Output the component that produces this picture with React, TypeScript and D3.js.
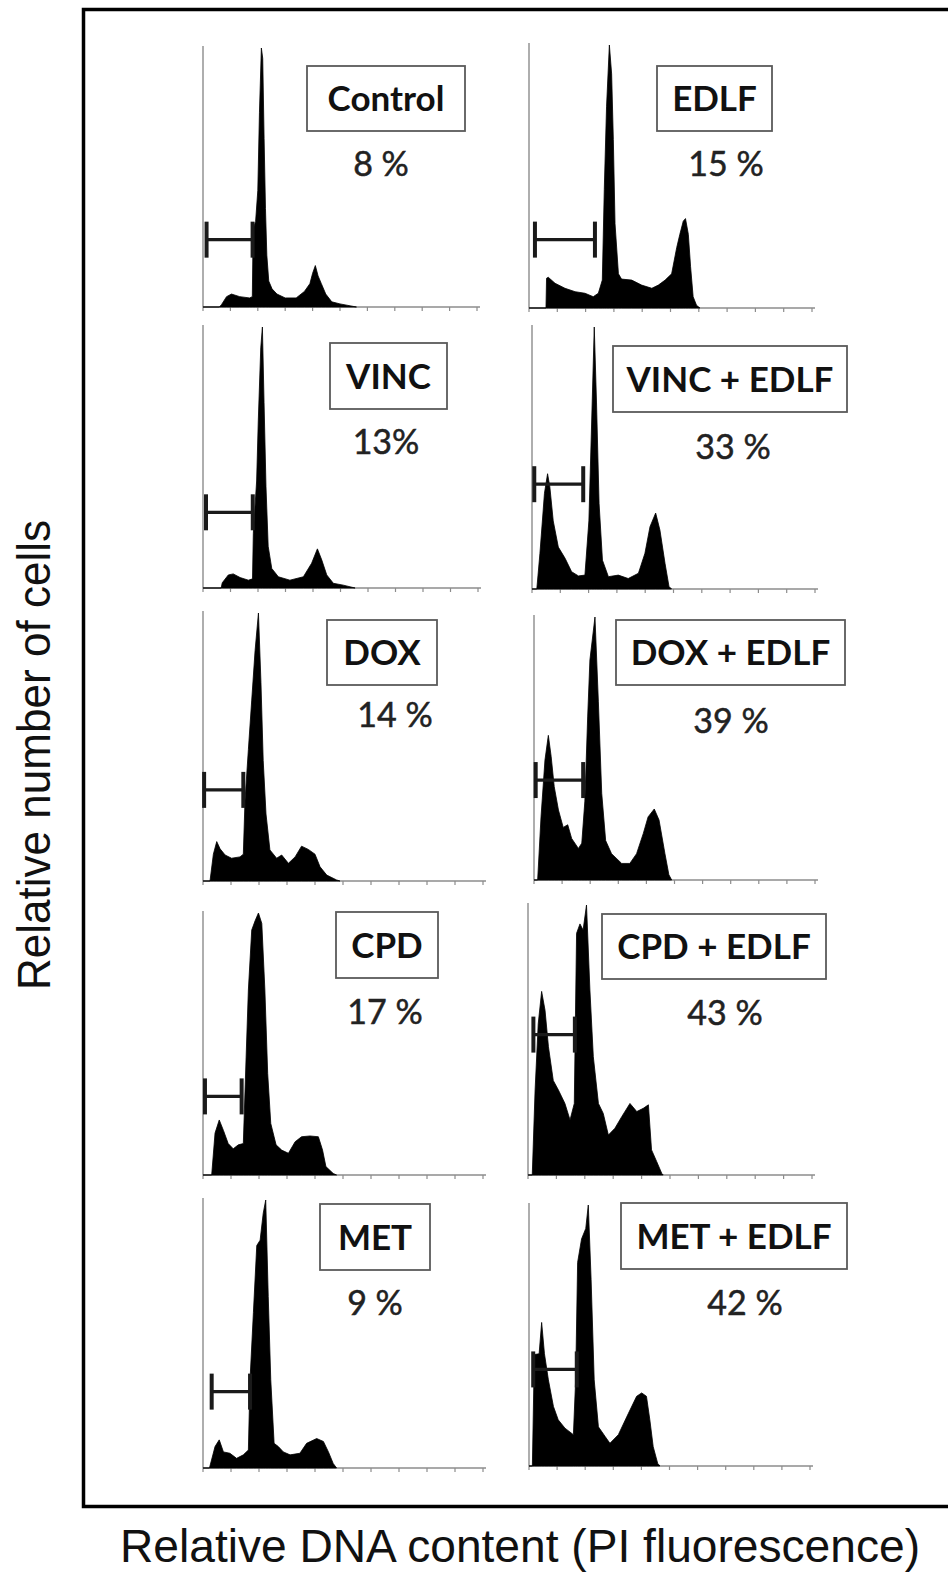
import React from "react";
import * as d3 from "d3";

// ---------- DATA ----------
const PANEL_NAMES = [
  "Control", "EDLF",
  "VINC", "VINC + EDLF",
  "DOX", "DOX + EDLF",
  "CPD", "CPD + EDLF",
  "MET", "MET + EDLF",
];

const PERCENT_LABELS = ["8 %", "15 %", "13%", "33 %", "14 %", "39 %", "17 %", "43 %", "9 %", "42 %"];

const TICK_VALUES = [0, 100, 200, 300, 400, 500, 600, 700, 800, 900, 1000];

// histograms: [channel (0-1000), relative count (% of max)]
const controlHist: [number, number][] = [
  [0, 0], [60, 0], [68, 1], [86, 4], [104, 5], [134, 4], [170, 3.5], [180, 4], [183, 30], [192, 33],
  [200, 45], [206, 75], [213, 100], [218, 96], [223, 65], [228, 38], [233, 20], [240, 10], [252, 7],
  [270, 5], [300, 3.5], [340, 3.5], [370, 6], [390, 9], [400, 13], [410, 16], [420, 12], [432, 9],
  [448, 5], [470, 2], [500, 1.2], [540, 0.4], [560, 0],
];
const edlfHist: [number, number][] = [
  [0, 0], [60, 0], [62, 11.3], [68, 11.7], [92, 9.4], [127, 7.5], [163, 6.2], [198, 5.6], [227, 4.3],
  [245, 5.6], [259, 10.6], [266, 45], [274, 76.5], [284, 100], [292, 89], [298, 64], [304, 32],
  [316, 13], [327, 11], [363, 10.6], [398, 8.7], [434, 7.5], [457, 8.7], [481, 10.6], [504, 13],
  [522, 23], [533, 28], [545, 33], [553, 34], [563, 28], [571, 15.7], [580, 4.3], [592, 1], [604, 0],
];
const vincHist: [number, number][] = [
  [0, 0], [66, 0], [70, 2], [92, 5], [110, 5.4], [135, 4], [165, 3], [180, 3.5], [183, 21], [195, 41],
  [201, 64], [210, 92], [216, 100], [222, 71], [229, 39], [237, 16], [250, 7.5], [274, 4.3], [316, 3],
  [365, 4.3], [395, 9.5], [416, 15], [432, 10.7], [450, 5], [474, 1.8], [510, 1.1], [553, 0],
];
const vincEdlfHist: [number, number][] = [
  [0, 0], [17, 0], [28, 13.6], [44, 36.5], [55, 44], [63, 39], [75, 26], [93, 16], [117, 11.7],
  [140, 6.6], [164, 5], [187, 5.3], [201, 26], [211, 64.5], [220, 100], [228, 71], [237, 32.7],
  [249, 11], [270, 4.7], [305, 5.3], [340, 4], [376, 6], [399, 13.6], [417, 23.8], [437, 29],
  [452, 22.5], [470, 9.8], [484, 1], [493, 0],
];
const doxHist: [number, number][] = [
  [0, 0], [25, 0], [37, 10], [49, 14.7], [61, 12], [79, 9.7], [102, 8.5], [132, 9], [144, 10],
  [150, 30], [162, 49], [174, 67.5], [186, 86], [198, 100], [207, 74], [215, 45], [225, 25],
  [239, 11.6], [263, 8.5], [281, 9.7], [305, 6.6], [329, 9], [352, 13], [376, 11.8], [400, 10],
  [418, 5.3], [442, 2.2], [477, 0.4], [489, 0],
];
const doxEdlfHist: [number, number][] = [
  [0, 0], [13, 0], [25, 24], [39, 45.6], [51, 55], [61, 47], [72, 35.5], [87, 26.6], [104, 20],
  [120, 21], [134, 15.8], [158, 12], [170, 14], [181, 30], [191, 62], [199, 83.7], [217, 100],
  [229, 68], [241, 33], [255, 15], [276, 10], [312, 6.3], [341, 6.3], [365, 10], [389, 17.7],
  [406, 24], [428, 27], [445, 22.8], [466, 10], [480, 2], [490, 0],
];
const cpdHist: [number, number][] = [
  [0, 0], [31, 0], [43, 16], [58, 21], [73, 17], [90, 12], [108, 10], [126, 11.5], [144, 12],
  [154, 45], [162, 70.6], [174, 93.5], [186, 97], [198, 100], [210, 96], [221, 70.6], [231, 38.8],
  [242, 19.7], [261, 11.5], [281, 9.5], [305, 8.3], [329, 12.7], [352, 14.6], [382, 14.9],
  [412, 14.6], [427, 9.5], [439, 3.2], [465, 0.6], [477, 0],
];
const cpdEdlfHist: [number, number][] = [
  [0, 0], [15, 0], [25, 31.5], [36, 56], [48, 68], [60, 61], [72, 47.5], [89, 35], [107, 31.5],
  [130, 26.5], [148, 20.4], [163, 26.5], [171, 89.5], [183, 93], [194, 90.7], [206, 100],
  [218, 68.5], [230, 43.8], [248, 26.5], [265, 22.8], [283, 14.8], [306, 17.3], [330, 21.6],
  [359, 26.5], [383, 23.5], [406, 24.7], [424, 26], [435, 9.3], [453, 5], [471, 0.6], [476, 0],
];
const metHist: [number, number][] = [
  [0, 0], [23, 0], [43, 8], [58, 10.5], [73, 6], [96, 5.5], [120, 3.6], [144, 4.9], [162, 6.7],
  [168, 33], [180, 58], [192, 83], [204, 85], [215, 95], [224, 100], [233, 64], [242, 33],
  [254, 9.2], [269, 8], [287, 6], [311, 4.9], [346, 5.5], [370, 9.2], [406, 11], [430, 9.9],
  [448, 6], [465, 1.7], [477, 0],
];
const metEdlfHist: [number, number][] = [
  [0, 0], [12, 0], [19, 42.7], [36, 43], [45, 55], [55, 43], [69, 33], [87, 22.8], [104, 17.7],
  [128, 14.5], [158, 12], [166, 33], [173, 78], [187, 87], [202, 91], [211, 100], [221, 71.5],
  [232, 33], [247, 15], [271, 11.3], [288, 8.7], [318, 12], [353, 20], [383, 26.7], [401, 28],
  [418, 26.7], [430, 17.7], [442, 7.4], [458, 1], [466, 0],
];

const HISTOGRAMS = [
  controlHist, edlfHist, vincHist, vincEdlfHist, doxHist,
  doxEdlfHist, cpdHist, cpdEdlfHist, metHist, metEdlfHist,
];

// sub-G1 gate marker: start channel, end channel, level (% of max)
const GATE_START = [13, 21, 11, 8, 4, 6, 7, 19, 31, 15];
const GATE_END = [181, 233, 181, 181, 144, 175, 138, 165, 168, 170];
const GATE_LEVEL = [26, 26, 29, 40, 34, 38, 30, 52, 28.5, 37];

// ---------- LAYOUT ----------
type PanelLayout = {
  x0: number; x1: number; top: number; base: number;
  bx: number; by: number; bw: number; bh: number;
  px: number; py: number;
};
const LAYOUT: PanelLayout[] = [
  { x0: 203, x1: 477, top: 48, base: 307, bx: 307, by: 66, bw: 158, bh: 65, px: 381, py: 176 },
  { x0: 529, x1: 812, top: 45, base: 308, bx: 657, by: 66, bw: 115, bh: 65, px: 726, py: 176 },
  { x0: 203, x1: 478, top: 327, base: 588, bx: 330, by: 343, bw: 117, bh: 66, px: 386, py: 454 },
  { x0: 532, x1: 815, top: 327, base: 589, bx: 613, by: 346, bw: 234, bh: 66, px: 733, py: 459 },
  { x0: 203, x1: 483, top: 613, base: 881, bx: 327, by: 620, bw: 110, bh: 65, px: 395, py: 727 },
  { x0: 534, x1: 815, top: 617, base: 880, bx: 616, by: 620, bw: 229, bh: 65, px: 731, py: 733 },
  { x0: 203, x1: 483, top: 913, base: 1175, bx: 336, by: 912, bw: 102, bh: 66, px: 385, py: 1024 },
  { x0: 528, x1: 812, top: 905, base: 1175, bx: 602, by: 914, bw: 224, bh: 65, px: 725, py: 1025 },
  { x0: 203, x1: 483, top: 1200, base: 1468, bx: 320, by: 1204, bw: 110, bh: 66, px: 375, py: 1315 },
  { x0: 529, x1: 810, top: 1205, base: 1466, bx: 621, by: 1203, bw: 226, bh: 66, px: 745, py: 1315 },
];

const LABEL_FONT = "Lato, 'Open Sans', sans-serif";
const TITLE_FONT = "'Liberation Sans', Arial, sans-serif";

function Panel({ i }: { i: number }) {
  const L = LAYOUT[i];
  const x = d3.scaleLinear().domain([0, 1000]).range([L.x0, L.x1]);
  const y = d3.scaleLinear().domain([0, 100]).range([L.base, L.top]);
  const area = d3
    .area<[number, number]>()
    .x((d) => x(d[0]))
    .y0(y(0))
    .y1((d) => y(d[1]))
    .curve(d3.curveLinear);
  const gy = y(GATE_LEVEL[i]);
  const gx0 = x(GATE_START[i]);
  const gx1 = x(GATE_END[i]);
  return (
    <g>
      {/* axes */}
      <line x1={L.x0} x2={L.x0} y1={L.top - 2} y2={L.base} stroke="#8c8c8c" strokeWidth={1.4} />
      <line x1={L.x0} x2={L.x1 + 3} y1={L.base} y2={L.base} stroke="#8c8c8c" strokeWidth={1.4} />
      {TICK_VALUES.map((t) => (
        <line key={t} x1={x(t)} x2={x(t)} y1={L.base} y2={L.base + 4} stroke="#8c8c8c" strokeWidth={1.2} />
      ))}
      {/* histogram */}
      <path d={area(HISTOGRAMS[i]) || ""} fill="#000" stroke="#000" strokeWidth={0.8} />
      {/* gate marker */}
      <line x1={gx0} x2={gx1} y1={gy} y2={gy} stroke="#1a1a1a" strokeWidth={3.2} />
      <line x1={gx0} x2={gx0} y1={gy - 18} y2={gy + 18} stroke="#1a1a1a" strokeWidth={4} />
      <line x1={gx1} x2={gx1} y1={gy - 18} y2={gy + 18} stroke="#1a1a1a" strokeWidth={4} />
      {/* label box */}
      <rect x={L.bx} y={L.by} width={L.bw} height={L.bh} fill="#fff" stroke="#5a5a5a" strokeWidth={1.8} />
      <text
        x={L.bx + L.bw / 2}
        y={L.by + L.bh / 2 + 12.5}
        textAnchor="middle"
        fontFamily={LABEL_FONT}
        fontWeight={700}
        fontSize={35}
        fill="#111"
      >
        {PANEL_NAMES[i]}
      </text>
      <text
        x={L.px}
        y={L.py}
        textAnchor="middle"
        fontFamily={LABEL_FONT}
        fontSize={34}
        fill="#222"
        stroke="#222"
        strokeWidth={0.5}
      >
        {PERCENT_LABELS[i]}
      </text>
    </g>
  );
}

export default function App() {
  const W = 948;
  const H = 1578;
  return (
    <svg
      width={W}
      height={H}
      viewBox={`0 0 ${W} ${H}`}
      style={{ position: "absolute", left: 0, top: 0, background: "#fff" }}
    >
      <rect x={0} y={0} width={W} height={H} fill="#fff" />
      <rect x={83.5} y={9.5} width={900} height={1497} fill="none" stroke="#000" strokeWidth={3.5} />
      {LAYOUT.map((_, i) => (
        <Panel key={i} i={i} />
      ))}
      <text
        transform={`translate(50,755) rotate(-90)`}
        textAnchor="middle"
        fontFamily={TITLE_FONT}
        fontSize={46}
        fill="#111"
        textLength={470}
        lengthAdjust="spacingAndGlyphs"
      >
        Relative number of cells
      </text>
      <text
        x={520}
        y={1562}
        textAnchor="middle"
        fontFamily={TITLE_FONT}
        fontSize={46}
        fill="#111"
        textLength={800}
        lengthAdjust="spacingAndGlyphs"
      >
        Relative DNA content (PI fluorescence)
      </text>
    </svg>
  );
}
